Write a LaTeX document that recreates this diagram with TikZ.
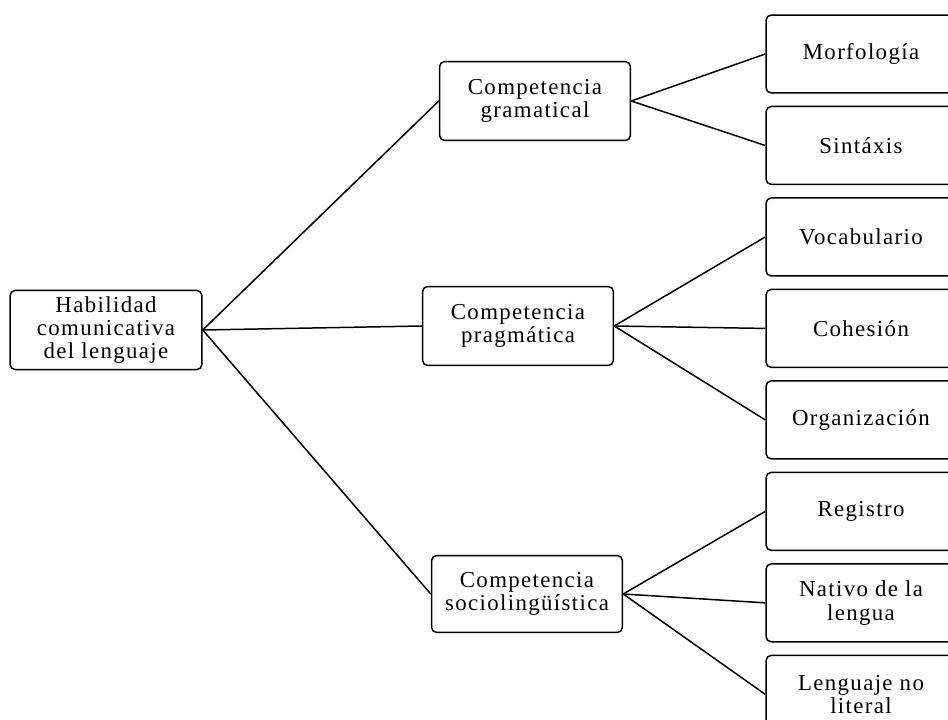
\documentclass[tikz,border=0pt]{standalone}
\usepackage{fontspec}
\setmainfont{Liberation Serif}[LetterSpace=6]
\usetikzlibrary{positioning}

\begin{document}
\begin{tikzpicture}[x=0.02cm,y=-0.02cm,line width=0.85pt,
    every node/.style={rectangle,draw,rounded corners=3pt,align=center,
        font=\fontsize{13}{13.3}\selectfont},
    mid/.style={minimum width=3.82cm,minimum height=1.58cm},
    leaf/.style={minimum width=3.8cm,minimum height=1.56cm}]
    \useasboundingbox (0,0) rectangle (948,720);
    \clip (0,0) rectangle (948,720);

    \node[minimum width=3.84cm,minimum height=1.58cm] (hab) at (106,330) {Habilidad\\comunicativa\\del lenguaje};
    \node[mid] (gram) at (535,101) {Competencia\\gramatical};
    \node[mid] (prag) at (518,326) {Competencia\\pragmática};
    \node[mid,minimum height=1.54cm] (soc) at (527,594) {Competencia\\sociolingüística};

    \node[leaf] (morf) at (861,54) {Morfología};
    \node[leaf,below=0.24cm of morf] (sint) {Sintáxis};
    \node[leaf,below=0.24cm of sint] (voc) {Vocabulario};
    \node[leaf,below=0.24cm of voc] (coh) {Cohesión};
    \node[leaf,below=0.24cm of coh] (org) {Organización};
    \node[leaf,below=0.24cm of org] (reg) {Registro};
    \node[leaf,below=0.24cm of reg] (nat) {Nativo de la\\lengua};
    \node[leaf,below=0.24cm of nat] (lit) {Lenguaje no\\literal};

    \foreach \u / \v in {hab/gram,hab/prag,hab/soc,gram/morf,gram/sint,prag/voc,prag/coh,prag/org,soc/reg,soc/nat,soc/lit}
        \draw (\u.east) -- (\v.west);
\end{tikzpicture}
\end{document}
